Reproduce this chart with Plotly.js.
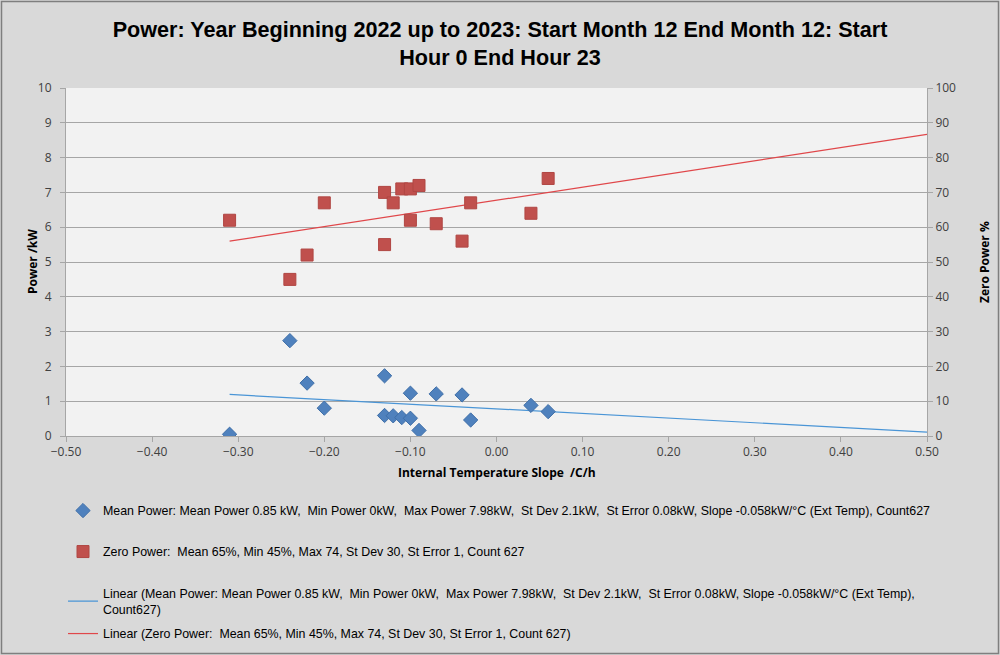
<!DOCTYPE html>
<html>
<head>
<meta charset="utf-8">
<script src="https://cdn.plot.ly/plotly-3.0.1.min.js"></script>
<style>html,body{margin:0;padding:0;background:#d9d9d9;}#chart{width:1000px;height:655px;}</style>
</head>
<body>
<div id="chart"></div>
<script>
// Internal temperature slope (C/h) for each day
const slopeX = [-0.31, -0.24, -0.22, -0.20, -0.13, -0.13, -0.12, -0.11, -0.10, -0.10, -0.09, -0.07, -0.04, -0.03, 0.04, 0.06];
// Mean power (kW)
const meanPower = [0.05, 2.74, 1.52, 0.80, 1.73, 0.59, 0.58, 0.53, 1.23, 0.51, 0.16, 1.21, 1.18, 0.46, 0.88, 0.70];
// Zero power (%)
const zeroPower = [62, 45, 52, 67, 70, 55, 67, 71, 71, 62, 72, 61, 56, 67, 64, 74];

const nameMean = "Mean Power: Mean Power 0.85 kW,  Min Power 0kW,  Max Power 7.98kW,  St Dev 2.1kW,  St Error 0.08kW, Slope -0.058kW/°C (Ext Temp), Count627";
const nameZero = "Zero Power:  Mean 65%, Min 45%, Max 74, St Dev 30, St Error 1, Count 627";
const nameLinMean = "Linear (Mean Power: Mean Power 0.85 kW,  Min Power 0kW,  Max Power 7.98kW,  St Dev 2.1kW,  St Error 0.08kW, Slope -0.058kW/°C (Ext Temp),<br>Count627)";
const nameLinZero = "Linear (Zero Power:  Mean 65%, Min 45%, Max 74, St Dev 30, St Error 1, Count 627)";

const xTitle = 'Internal Temperature Slope  /C/h';
const yTitle = 'Power /kW';
const y2Title = 'Zero Power %';

const xAxisMax = 0.5;

function linFit(xs, ys) {
  const n = xs.length;
  const mx = xs.reduce((a, b) => a + b, 0) / n;
  const my = ys.reduce((a, b) => a + b, 0) / n;
  let sxy = 0, sxx = 0;
  for (let i = 0; i < n; i++) { sxy += (xs[i] - mx) * (ys[i] - my); sxx += (xs[i] - mx) ** 2; }
  const b = sxy / sxx, a = my - b * mx;
  const x0 = Math.min(...xs);
  return { x: [x0, xAxisMax], y: [a + b * x0, a + b * xAxisMax] };
}
const fitMean = linFit(slopeX, meanPower);
const fitZero = linFit(slopeX, zeroPower);

const traces = [
  { x: fitZero.x, y: fitZero.y, type: 'scatter', mode: 'lines', name: nameLinZero, yaxis: 'y2', legend: 'legend4',
    line: { color: '#e0474a', width: 1.2 } },
  { x: fitMean.x, y: fitMean.y, type: 'scatter', mode: 'lines', name: nameLinMean, legend: 'legend3',
    line: { color: '#4a95d6', width: 1.2 } },
  { x: slopeX, y: meanPower, type: 'scatter', mode: 'markers', name: nameMean, legend: 'legend',
    marker: { symbol: 'diamond', size: 11, color: '#4f81bd', line: { color: '#3f6fa8', width: 1 } } },
  { x: slopeX, y: zeroPower, type: 'scatter', mode: 'markers', name: nameZero, yaxis: 'y2', legend: 'legend2',
    marker: { symbol: 'square', size: 12, color: '#c0504d', line: { color: '#b04643', width: 1 } } }
];

const tickFont = { family: 'Open Sans, Noto Sans, sans-serif', size: 12, color: '#404040' };
const axTitleFont = { family: 'Open Sans, Noto Sans, sans-serif', size: 12, color: '#000000', weight: 'bold' };
const legFont = { family: 'Liberation Sans, Arial, sans-serif', size: 12.4, color: '#000000' };

function legendAt(yCenter) {
  return { x: 0.063, xref: 'container', y: 1 - yCenter / 655, yref: 'container', xanchor: 'left', yanchor: 'middle',
    bgcolor: 'rgba(0,0,0,0)', font: legFont };
}

const layout = {
  width: 1000, height: 655,
  paper_bgcolor: '#d9d9d9',
  plot_bgcolor: '#f2f2f2',
  margin: { l: 66, r: 73, t: 88, b: 219, autoexpand: false },
  title: {
    text: 'Power: Year Beginning 2022 up to 2023: Start Month 12 End Month 12: Start<br>Hour 0 End Hour 23',
    font: { family: 'Liberation Sans, Arial, sans-serif', size: 21.6, color: '#000000', weight: 'bold' },
    x: 0.5, xref: 'container', y: 0.944, yref: 'container', yanchor: 'top'
  },
  showlegend: true,
  legend: legendAt(511),
  legend2: legendAt(552),
  legend3: legendAt(601.5),
  legend4: legendAt(634),
  xaxis: {
    range: [-0.5, 0.5], dtick: 0.1, tickformat: '.2f',
    showgrid: false, zeroline: false, automargin: false,
    showline: true, linecolor: '#a6a6a6', linewidth: 1,
    ticks: 'outside', ticklen: 5, tickcolor: '#a6a6a6',
    tickfont: tickFont
  },
  yaxis: {
    range: [0, 10], dtick: 1, automargin: false,
    showgrid: true, gridcolor: '#a6a6a6', gridwidth: 1, zeroline: false,
    showline: true, linecolor: '#a6a6a6',
    ticks: 'outside', ticklen: 5, tickcolor: '#a6a6a6', ticklabelstandoff: 6,
    tickfont: tickFont
  },
  yaxis2: {
    range: [0, 100], dtick: 10, overlaying: 'y', side: 'right', automargin: false,
    showgrid: false, zeroline: false,
    showline: true, linecolor: '#a6a6a6',
    ticks: 'outside', ticklen: 5, tickcolor: '#a6a6a6',
    tickfont: tickFont
  },
  annotations: [
    { text: xTitle, xref: 'paper', yref: 'paper', x: 0.5, y: (436 - 473) / 348, showarrow: false,
      xanchor: 'center', yanchor: 'middle', font: axTitleFont },
    { text: yTitle, xref: 'paper', yref: 'paper', x: (32 - 66) / 861, y: 0.5, showarrow: false, textangle: -90,
      xanchor: 'center', yanchor: 'middle', font: axTitleFont },
    { text: y2Title, xref: 'paper', yref: 'paper', x: (984 - 66) / 861, y: 0.5, showarrow: false, textangle: -90,
      xanchor: 'center', yanchor: 'middle', font: axTitleFont }
  ],
  shapes: [
    { type: 'rect', xref: 'paper', yref: 'paper',
      x0: (1.5 - 66) / 861, x1: (998.5 - 66) / 861, y0: (436 - 653.5) / 348, y1: (436 - 1.5) / 348,
      line: { color: '#7f7f7f', width: 1.5 }, fillcolor: 'rgba(0,0,0,0)', layer: 'below' }
  ]
};

Plotly.newPlot('chart', traces, layout, { staticPlot: true, displayModeBar: false });
</script>
</body>
</html>
